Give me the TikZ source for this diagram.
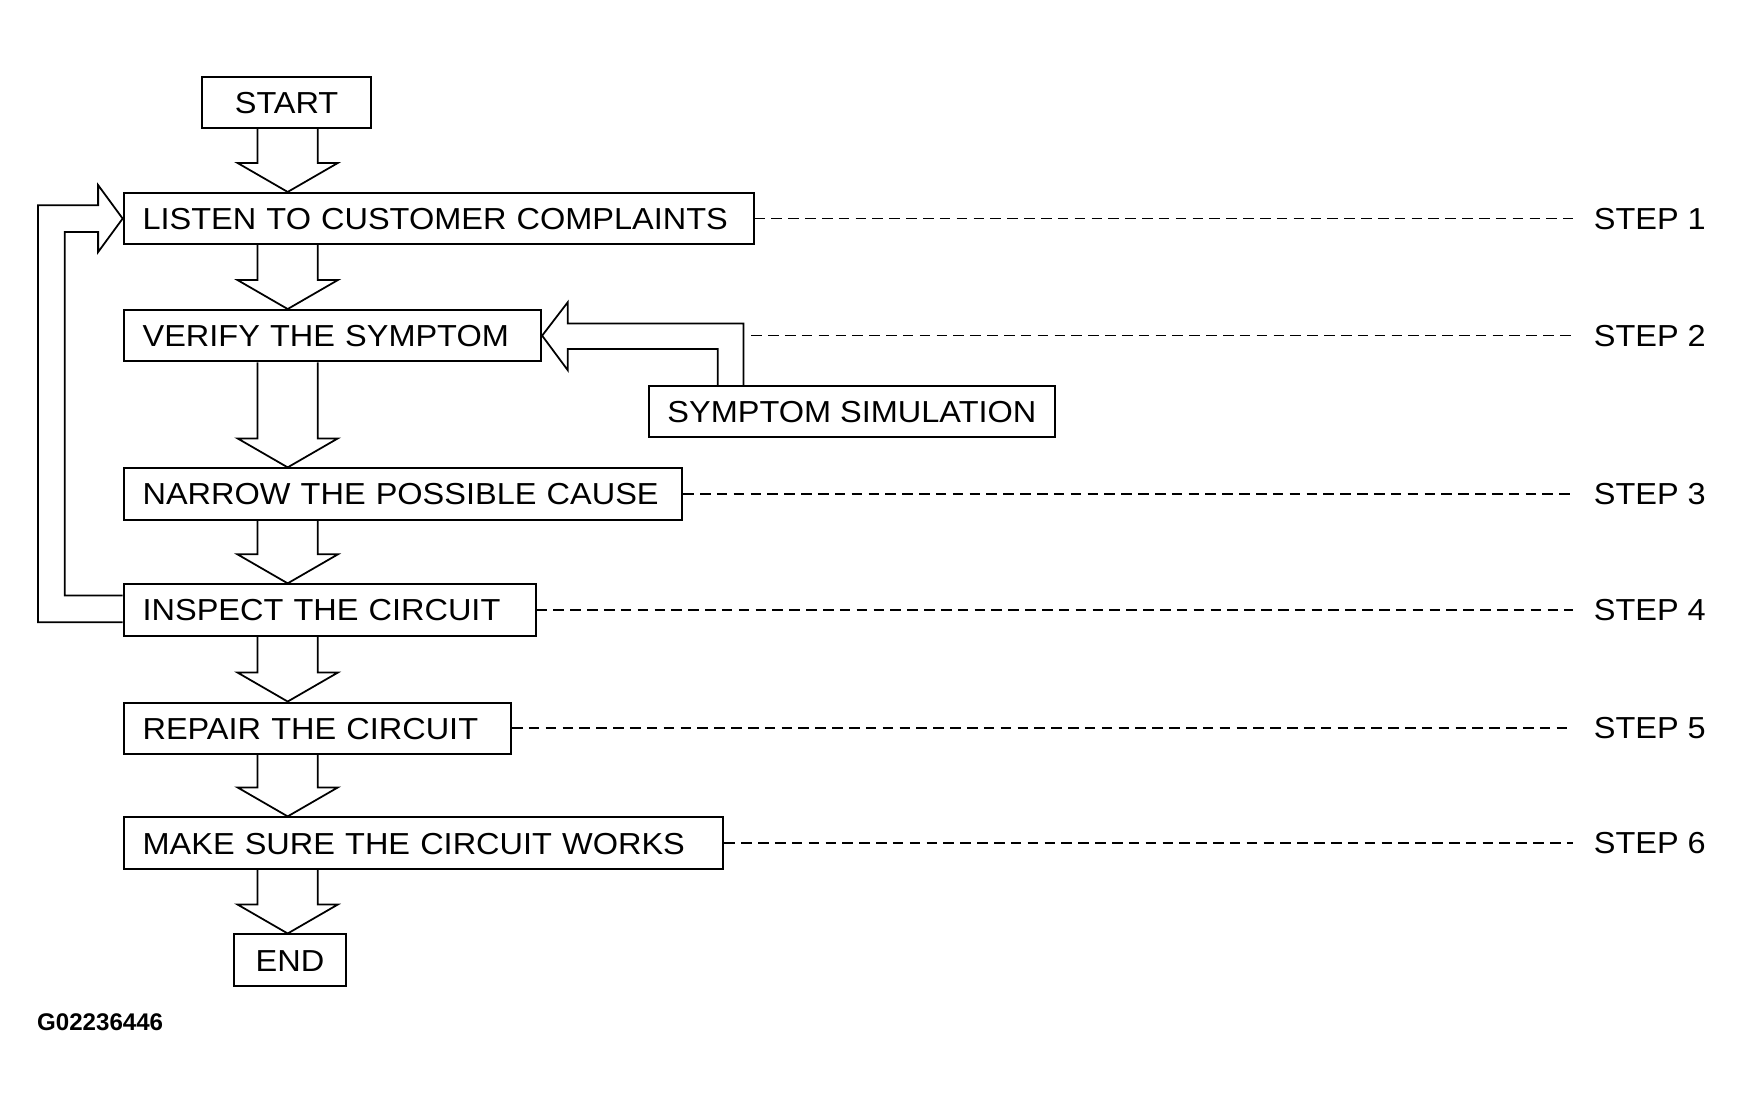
\documentclass[tikz,border=0pt]{standalone}
\usepackage{fontspec}
\setmainfont{Liberation Sans}[FakeStretch=1.07]
\newfontfamily\codefont{Liberation Sans}
\usetikzlibrary{calc}

\newcommand{\flowdown}[2]{%
  \draw [arrowline] ($(#1.south -| col)+(-27,0)$) -- ($(#2.north -| col)+(-27,-26)$)
    -- ($(#2.north -| col)+(-45,-26)$) -- (#2.north -| col) -- ($(#2.north -| col)+(45,-26)$)
    -- ($(#2.north -| col)+(27,-26)$) -- ($(#1.south -| col)+(27,0)$);}

\begin{document}
\begin{tikzpicture}[x=0.02cm, y=-0.02cm,
    box/.style={draw, line width=1pt, anchor=west, minimum height=0.92cm, inner xsep=0.34cm,
      text height=11.2pt, text depth=0pt, font=\fontsize{15.5}{18}\selectfont},
    wide/.style={text width=#1, align=left},
    steplabel/.style={anchor=west, inner xsep=0.36cm, inner ysep=0pt, font=\fontsize{15.5}{18}\selectfont},
    arrowline/.style={line width=0.9pt, line join=miter},
    thindash/.style={line width=0.6pt, dash pattern=on 5.4pt off 3.2pt},
    thickdash/.style={line width=1.3pt, dash pattern=on 5.4pt off 3.2pt}]
    \useasboundingbox (0,0) rectangle (1564,992);
    \coordinate (col) at (258,0);
    \coordinate (stepcol) at (1411,0);

    \node [box, anchor=center, minimum width=3.04cm] (start) at (257,92) {START};
    \node [box, wide=10.62cm] (listen) at (110,196) {LISTEN TO CUSTOMER COMPLAINTS};
    \node [box, wide=6.81cm] (verify) at (110,301) {VERIFY THE SYMPTOM};
    \node [box, anchor=center] (sim) at (764,369) {SYMPTOM SIMULATION};
    \node [box, wide=9.34cm] (narrow) at (110,443) {NARROW THE POSSIBLE CAUSE};
    \node [box, wide=6.71cm] (inspect) at (110,547) {INSPECT THE CIRCUIT};
    \node [box, wide=6.27cm] (repair) at (110,653) {REPAIR THE CIRCUIT};
    \node [box, wide=10.08cm] (works) at (110,756) {MAKE SURE THE CIRCUIT WORKS};
    \node [box, anchor=center, minimum width=2cm] (finish) at (260,861) {END};

    \foreach \nd/\n in {listen/1, verify/2, narrow/3, inspect/4, repair/5, works/6}
        \node [steplabel] (step\n) at (\nd -| stepcol) {STEP \n};

    \flowdown{start}{listen}
    \flowdown{listen}{verify}
    \flowdown{verify}{narrow}
    \flowdown{narrow}{inspect}
    \flowdown{inspect}{repair}
    \flowdown{repair}{works}
    \flowdown{works}{finish}

    \coordinate (simin) at ($(sim.north west)+(63,0)$);
    \coordinate (simout) at ($(sim.north west)+(86,0)$);
    \draw [arrowline] (simin) |- ($(verify.east)+(23,12)$) -- ($(verify.east)+(23,31)$) -- (verify.east)
        -- ($(verify.east)+(23,-30)$) -- ($(verify.east)+(23,-11)$) -| (simout);

    \draw [arrowline] ($(inspect.west)+(0,11)$) -| ($(listen.west)+(-76,-12)$) -- ($(listen.west)+(-22,-12)$)
        -- ($(listen.west)+(-22,-30)$) -- (listen.west) -- ($(listen.west)+(-22,30)$)
        -- ($(listen.west)+(-22,12)$) -| ($(inspect.west)+(-52,-13)$) -- ($(inspect.west)+(0,-13)$);

    \draw [thindash] (listen.east) -- (step1.west);
    \draw [thindash] ($(verify.east -| simout)+(7,0)$) -- (step2.west);
    \draw [thindash] (narrow.east) -- (step3.west);
    \draw [thickdash] (inspect.east) -- (step4.west);
    \draw [thickdash] (repair.east) -- (step5.west);
    \draw [thindash] (works.east) -- (step6.west);

    \node [anchor=west, inner sep=0pt, font={\fontsize{12.3}{14}\codefont\bfseries}] (code) at (33,917) {G02236446};
\end{tikzpicture}
\end{document}
